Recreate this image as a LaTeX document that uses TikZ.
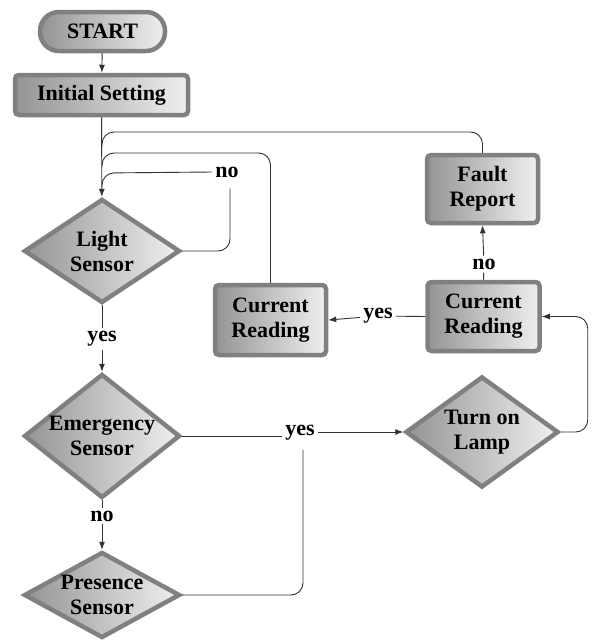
\documentclass[tikz,border=0pt]{standalone}
\usepackage{fontspec}
\setmainfont{Liberation Serif}
\usepackage{tikz}
\usetikzlibrary{arrows.meta,shapes.geometric}

\begin{document}
\begin{tikzpicture}[x=1pt,y=-1pt,>={Latex[length=8pt,width=6pt]},
        every node/.style={font=\fontsize{22}{25}\selectfont\bfseries},
        box/.style={rectangle,rounded corners=4pt,draw=black!50,line width=4.5pt,
            left color=black!42,right color=black!6,inner sep=0pt,align=center},
        pill/.style={box,rounded corners=19pt},
        decision/.style={diamond,draw=black!50,line width=4.5pt,
            left color=black!42,right color=black!6,inner sep=-22pt,align=center},
        word/.style={inner sep=3pt},
        flow/.style={draw=black!80,line width=0.9pt}]
    \useasboundingbox (0,0) rectangle (592,640);
    \node[pill,minimum width=125pt,minimum height=39pt] (start) at (102.5,31.5) {START};
    \node[box,minimum width=173pt,minimum height=40pt] (init) at (101.5,95) {Initial Setting};
    \node[decision,minimum width=156pt,minimum height=104pt] (light) at (102,251) {Light\\Sensor};
    \node[decision,minimum width=156pt,minimum height=124pt] (emerg) at (102,436) {Emergency\\Sensor};
    \node[decision,minimum width=156pt,minimum height=86pt] (presence) at (102,595) {Presence\\Sensor};
    \node[decision,minimum width=153pt,minimum height=111pt] (lamp) at (482,432) {Turn on\\Lamp};
    \node[box,minimum width=112pt,minimum height=69pt] (readR) at (483.5,316.5) {Current\\Reading};
    \node[box,minimum width=111pt,minimum height=68pt] (fault) at (482.5,189) {Fault\\Report};
    \node[box,minimum width=111pt,minimum height=70pt] (readL) at (270.5,320) {Current\\Reading};
    \coordinate (j1) at (102,132);
    \coordinate (j2) at (102,153);
    \coordinate (j3) at (102,173);
    \node[word] (no1) at (227,172) {no};
    \node[word] (yes1) at (102,339) {yes};
    \node[word] (no2) at (102,516) {no};
    \node[word] (yes2) at (300,433) {yes};
    \node[word] (yes3) at (378,316) {yes};
    \node[word] (no3) at (484,264) {no};

    \draw[flow,->] (start) -- (init);
    \draw[flow,->] (init) -- (light);
    \draw[flow,rounded corners=12pt] (fault.north) |- (j1) -- ++(0,14);
    \draw[flow,rounded corners=12pt] (readL.north) |- (j2) -- ++(0,14);
    \draw[flow,rounded corners=12pt] (no1.west) -- (j3) -- ++(0,14);
    \draw[flow,rounded corners=12pt,shorten >=8pt] (light.east) -| ([xshift=3pt]no1.south);
    \draw[flow] (light) -- (yes1);
    \draw[flow,->] (yes1) -- (emerg);
    \draw[flow] (emerg) -- (no2);
    \draw[flow,->] (no2) -- (presence);
    \draw[flow] (emerg.east) -- (emerg.east -| yes2.west);
    \draw[flow,->] (yes2.east |- lamp.west) -- (lamp.west);
    \draw[flow,rounded corners=12pt,shorten >=6pt] (presence.east) -| ([xshift=3pt]yes2.south);
    \draw[flow,->,rounded corners=12pt] (lamp.east) -| ([xshift=46pt]readR.east) -- (readR.east);
    \draw[flow] (readR.west) -- (yes3);
    \draw[flow,->] (yes3) -- (readL.east);
    \draw[flow] (readR.north) -- (no3);
    \draw[flow,->] (no3) -- (fault.south);
\end{tikzpicture}
\end{document}
